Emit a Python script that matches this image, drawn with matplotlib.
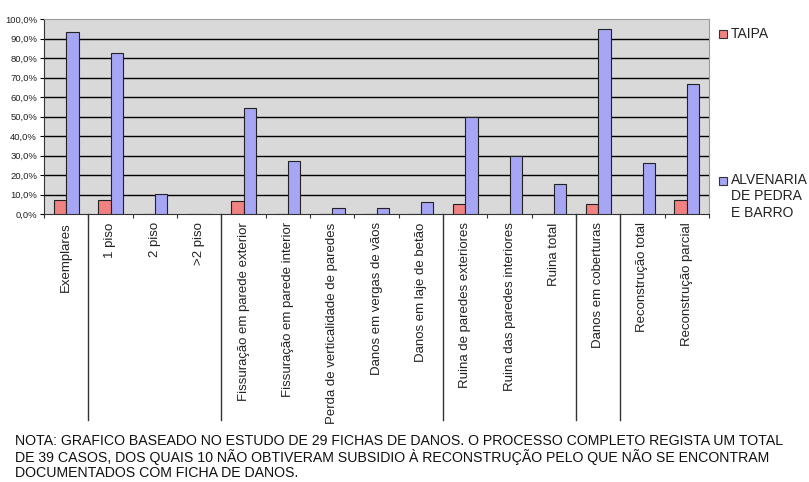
import matplotlib
matplotlib.use("Agg")
import matplotlib.pyplot as plt
import numpy as np
from matplotlib.transforms import blended_transform_factory
from matplotlib.patches import Rectangle

categories = ["Exemplares", "1 piso", "2 piso", ">2 piso",
              "Fissuração em parede exterior", "Fissuração em parede interior",
              "Perda de verticalidade de paredes", "Danos em vergas de vãos",
              "Danos em laje de betão", "Ruina de paredes exteriores",
              "Ruina das paredes interiores", "Ruina total",
              "Danos em coberturas", "Reconstrução total", "Reconstrução parcial"]
taipa = [7.1, 7.1, 0, 0, 6.5, 0, 0, 0, 0, 5.3, 0, 0, 5.3, 0, 7.3]
alvenaria = [93.1, 82.8, 10.5, 0, 54.5, 27.4, 3.3, 3.3, 6.4, 49.7, 30.0, 15.5, 94.7, 26.3, 66.5]
yticks = [0, 10, 20, 30, 40, 50, 60, 70, 80, 90, 100]
separators = [0.5, 3.5, 8.5, 11.5, 12.5]
legend_taipa = ["TAIPA"]
legend_alv = ["ALVENARIA", "DE PEDRA", "E BARRO"]
note_lines = ["NOTA: GRAFICO BASEADO NO ESTUDO DE 29 FICHAS DE DANOS. O PROCESSO COMPLETO REGISTA UM TOTAL",
              "DE 39 CASOS, DOS QUAIS 10 NÃO OBTIVERAM SUBSIDIO À RECONSTRUÇÃO PELO QUE NÃO SE ENCONTRAM",
              "DOCUMENTADOS COM FICHA DE DANOS."]

plt.rcParams['font.family'] = ['Liberation Sans', 'DejaVu Sans']

W, H = 809, 482
fig = plt.figure(figsize=(W/100, H/100), dpi=100)
ax = fig.add_axes([44/W, 1-214/H, (709-44)/W, (214-19)/H])
ax.set_facecolor('#d9d9d9')

x = np.arange(len(categories))
bw = 0.28
c_t = '#f08282'
c_a = '#a6a6f4'
ax.bar(x - bw/2, taipa, bw, color=c_t, edgecolor='#222222', linewidth=0.8, zorder=3)
ax.bar(x + bw/2, alvenaria, bw, color=c_a, edgecolor='#222222', linewidth=0.8, zorder=3)

ax.set_xlim(-0.5, len(categories) - 0.5)
ax.set_ylim(0, 100)
ax.set_yticks(yticks)
ax.set_yticklabels([f"{v:.1f}%".replace('.', ',') for v in yticks], fontsize=6.8, color='#222222')
for yv in yticks[1:-1]:
    ax.axhline(yv, color='black', linewidth=1.0, zorder=1)

ax.set_xticks(x)
ax.set_xticklabels(categories, rotation=90, fontsize=9.5, va='top', ha='center', color='#222222')
ax.tick_params(axis='x', length=0, pad=6)
ax.set_xticks(np.arange(-0.5, len(categories)), minor=True)
ax.tick_params(axis='x', which='minor', length=3, width=0.8, color='#333333')
ax.tick_params(axis='y', length=3, width=0.8, pad=2)

for s in ['top', 'right']:
    ax.spines[s].set_color('#9a9a9a')
    ax.spines[s].set_linewidth(0.8)
ax.spines['left'].set_color('#333333')
ax.spines['bottom'].set_color('#333333')

tr = blended_transform_factory(ax.transData, ax.transAxes)
for s in separators:
    ax.plot([s, s], [0, -(420-214)/195], transform=tr, color='#333333', linewidth=1.0, clip_on=False)

def square(y_px, color):
    fig.patches.append(Rectangle((719/W, 1-(y_px+4)/H), 8/W, 8/H, transform=fig.transFigure,
                                 facecolor=color, edgecolor='#333333', linewidth=0.8))

square(34, c_t)
fig.text(731/W, 1-34/H, legend_taipa[0], fontsize=10, va='center', ha='left', color='#222222')
square(181, c_a)
for i, t in enumerate(legend_alv):
    fig.text(731/W, 1-(180 + 16.5*i)/H, t, fontsize=10, va='center', ha='left', color='#222222')

for i, t in enumerate(note_lines):
    fig.text(15/W, 1-(441 + 16*i)/H, t, fontsize=10.2, va='center', ha='left', color='#111111')

fig.savefig('out.png', dpi=100, facecolor='white')
